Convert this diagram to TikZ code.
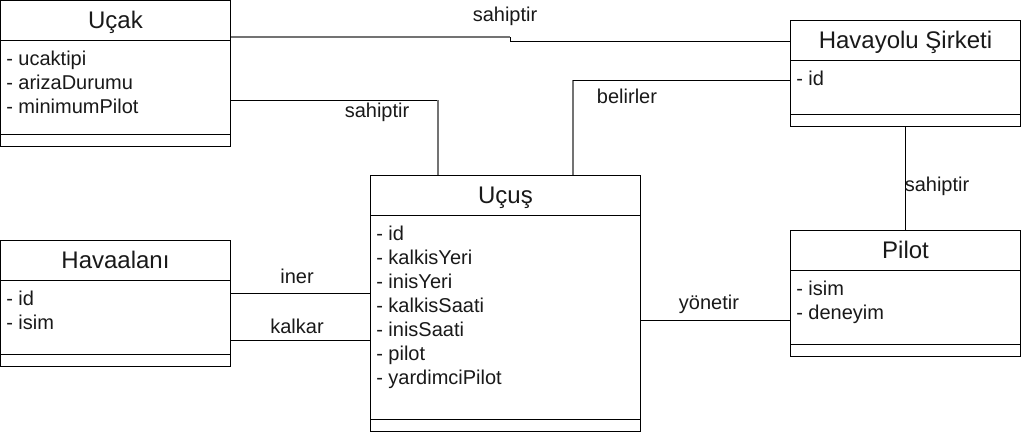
\documentclass[tikz,border=0pt]{standalone}
\usepackage{fontspec}
\setmainfont{Liberation Sans}
\usetikzlibrary{calc}
\tikzset{
  box/.style={draw=black, fill=white, line width=0.75pt, inner sep=0pt},
  ttl/.style={font=\fontsize{18}{21}\selectfont, inner sep=0pt, text=black!90},
  attr/.style={font=\fontsize{15}{18}\selectfont, inner sep=0pt, text=black!90},
  lbl/.style={font=\fontsize{15}{18}\selectfont, inner sep=0pt, text=black!90},
  conn/.style={draw=black, line width=0.75pt},
  gconn/.style={draw=black!55, line width=1.5pt},
}
\newcommand{\umlclass}[6]{%
  \node[box, minimum width={#4*0.75pt}, minimum height={#5*0.75pt}, anchor=north west] (#1) at (#2,#3) {};
  \draw[line width=0.75pt] ($(#1.north west)+(0,40)$) -- ($(#1.north east)+(0,40)$);
  \draw[line width=0.75pt] ($(#1.south west)+(0,-13)$) -- ($(#1.south east)+(0,-13)$);
  \node[ttl, anchor=base] (#1-title) at ($(#1.north)+(0,28)$) {#6};
}
\newcommand{\umlattrs}[2]{%
  \foreach \t [count=\i] in {#2} {
    \node[attr, anchor=base west] (#1-a\i) at ($(#1.north west)+(6,{65+(\i-1)*24})$) {\t};
  }
}
\begin{document}
\begin{tikzpicture}[x=0.75pt,y=-0.75pt]
\useasboundingbox[fill=white] (0,0) rectangle (1029,432);

% connectors (behind boxes)
\coordinate (j1) at (510,37);
\coordinate (j2) at (510,41);
\coordinate (c1) at (230,37);
\coordinate (c2) at (790,41);
\draw[gconn] (c1) -- (j1);
\draw[conn] (j1) -- (j2) -- (c2);

\umlclass{ucak}{0}{0}{230}{146}{Uçak}
\umlattrs{ucak}{- ucaktipi,- arizaDurumu,- minimumPilot}

\umlclass{havayolu}{790}{20}{230}{106}{Havayolu Şirketi}
\umlattrs{havayolu}{- id}

\umlclass{ucus}{370}{175}{270}{256}{Uçuş}
\umlattrs{ucus}{- id,- kalkisYeri,- inisYeri,- kalkisSaati,- inisSaati,- pilot,- yardimciPilot}

\umlclass{havaalani}{0}{240}{230}{126}{Havaalanı}
\umlattrs{havaalani}{- id,- isim}

\umlclass{pilot}{790}{230}{230}{126}{Pilot}
\umlattrs{pilot}{- isim,- deneyim}

% Uçak -- Uçuş
\coordinate (k1) at (438,100);
\draw[conn] ($(ucak.north east)+(0,100)$) -- (k1);
\draw[gconn] (k1) -- ($(ucus.north west)+(68,0)$);
% Uçuş -- Havayolu (belirler)
\coordinate (k2) at (573,80);
\draw[gconn] ($(ucus.north west)+(203,0)$) -- (k2);
\draw[conn] (k2) -- ($(havayolu.north west)+(0,60)$);
% Havayolu -- Pilot
\draw[conn] (havayolu.south) -- (pilot.north);
% Havaalanı -- Uçuş
\draw[conn] ($(havaalani.north east)+(0,53)$) -- ($(ucus.north west)+(0,118)$);
\draw[conn] ($(havaalani.north east)+(0,100)$) -- ($(ucus.north west)+(0,165)$);
% Uçuş -- Pilot
\draw[conn] ($(ucus.north east)+(0,145)$) -- ($(pilot.north west)+(0,90)$);

% labels
\node[lbl] (l1) at (505,16) {sahiptir};
\node[lbl] (l2) at (377,112) {sahiptir};
\node[lbl] (l3) at (627,96) {belirler};
\node[lbl] (l4) at (937,186) {sahiptir};
\node[lbl] (l5) at (297,276) {iner};
\node[lbl] (l6) at (297,326) {kalkar};
\node[lbl] (l7) at (709,304) {yönetir};
\end{tikzpicture}
\end{document}
